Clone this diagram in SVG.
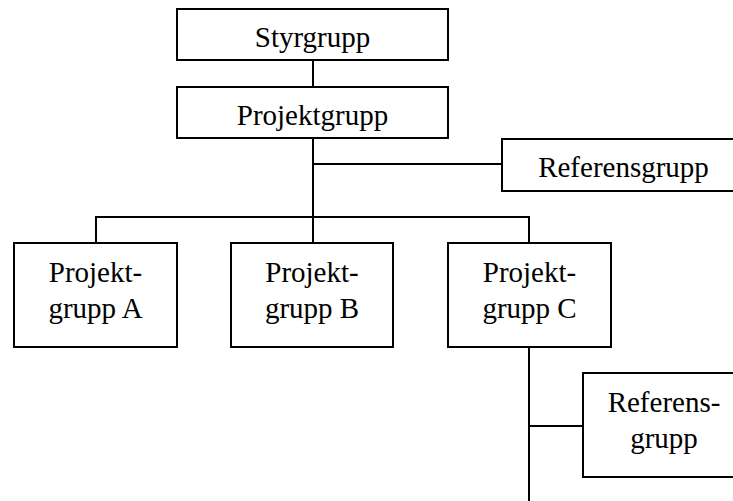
<svg xmlns="http://www.w3.org/2000/svg" width="733" height="501" viewBox="0 0 733 501">
  <style>
    .box { fill: #fff; stroke: #000; stroke-width: 2; }
    .lbl { font-family: "Liberation Serif", "Times New Roman", serif; font-size: 29px; fill: #000; text-anchor: middle; }
    .wire { fill: none; stroke: #000; stroke-width: 2; }
  </style>
  <rect width="733" height="501" fill="#fff"/>

  <g id="connectors">
    <line class="wire" x1="313" y1="60" x2="313" y2="87"/>
    <line class="wire" x1="313" y1="138" x2="313" y2="243"/>
    <line class="wire" x1="313" y1="164" x2="502" y2="164"/>
    <polyline class="wire" points="96,243 96,217 529,217 529,243"/>
    <line class="wire" x1="529" y1="347" x2="529" y2="501"/>
    <line class="wire" x1="529" y1="426" x2="583" y2="426"/>
  </g>

  <g id="styrgrupp">
    <rect class="box" x="177" y="9" width="271" height="51"/>
    <text class="lbl" x="312.5" y="47">Styrgrupp</text>
  </g>

  <g id="projektgrupp">
    <rect class="box" x="177" y="87" width="271" height="51"/>
    <text class="lbl" x="312.5" y="125">Projektgrupp</text>
  </g>

  <g id="referensgrupp">
    <rect class="box" x="502" y="139" width="240" height="52"/>
    <text class="lbl" x="623.5" y="177">Referensgrupp</text>
  </g>

  <g id="projektgrupp-a">
    <rect class="box" x="14" y="243" width="163" height="104"/>
    <text class="lbl" x="95.5" y="282">Projekt-</text>
    <text class="lbl" x="95.5" y="318">grupp A</text>
  </g>

  <g id="projektgrupp-b">
    <rect class="box" x="231" y="243" width="162" height="104"/>
    <text class="lbl" x="312" y="282">Projekt-</text>
    <text class="lbl" x="312" y="318">grupp B</text>
  </g>

  <g id="projektgrupp-c">
    <rect class="box" x="448" y="243" width="163" height="104"/>
    <text class="lbl" x="529.5" y="282">Projekt-</text>
    <text class="lbl" x="529.5" y="318">grupp C</text>
  </g>

  <g id="referensgrupp-c">
    <rect class="box" x="583" y="373" width="160" height="104"/>
    <text class="lbl" x="664" y="412">Referens-</text>
    <text class="lbl" x="664" y="448">grupp</text>
  </g>
</svg>
